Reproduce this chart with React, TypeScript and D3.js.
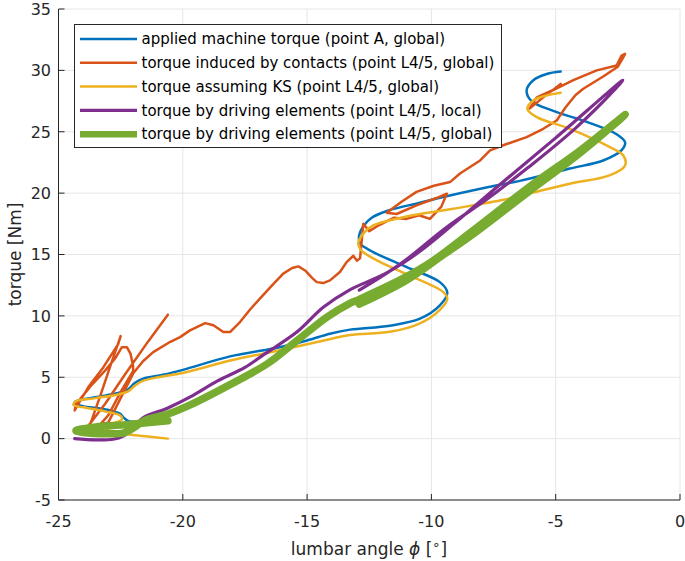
import React from 'react';
import * as d3 from 'd3';

type P = [number, number];

const xTicks = [-25, -20, -15, -10, -5, 0];
const yTicks = [-5, 0, 5, 10, 15, 20, 25, 30, 35];

const legendLabels = [
  'applied machine torque (point A, global)',
  'torque induced by contacts (point L4/5, global)',
  'torque assuming KS (point L4/5, global)',
  'torque by driving elements (point L4/5, local)',
  'torque by driving elements (point L4/5, global)',
];
const seriesColors = ['#0072BD', '#D95319', '#EDB120', '#7E2F8E', '#77AC30'];
const seriesWidths = [2.5, 2.5, 2.5, 3.2, 7.5];

const machineTorque: P[] = [
  [-20.7, 1.4], [-21.6, 1.35], [-22.2, 1.45], [-22.4, 1.75], [-22.5, 2.0], [-23.06, 2.36], [-24.14, 2.71],
  [-24.35, 2.98], [-24.0, 3.2], [-23.06, 3.53], [-22.26, 3.93], [-21.92, 4.55], [-21.59, 4.89], [-20.8, 5.2],
  [-20.0, 5.6], [-18.1, 6.7], [-16.1, 7.45], [-15.0, 8.0], [-14.08, 8.55], [-13.27, 8.88], [-11.67, 9.2],
  [-10.46, 9.77], [-9.66, 10.85], [-9.36, 11.9], [-9.66, 12.75], [-10.99, 13.97], [-12.34, 15.2],
  [-12.87, 15.9], [-12.9, 16.6], [-12.7, 17.4], [-12.4, 18.0], [-11.7, 18.6], [-10.5, 19.2], [-9.7, 19.6],
  [-7.7, 20.5], [-6.44, 21.0], [-4.43, 22.0], [-3.09, 22.66], [-2.35, 23.5], [-2.21, 24.15], [-2.55, 24.8],
  [-3.75, 25.8], [-5.1, 26.7], [-5.97, 27.5], [-6.17, 28.36], [-5.9, 29.2], [-5.36, 29.7], [-4.8, 29.9],
];

const contactTorque: P[] = [
  [-20.6, 10.1], [-21.4, 7.9], [-22.3, 5.3], [-23.1, 2.9], [-23.85, 0.9], [-23.7, 1.3], [-23.3, 3.6],
  [-22.9, 6.0], [-22.5, 8.35], [-22.6, 7.7], [-23.2, 5.8], [-23.8, 4.2], [-24.35, 2.3], [-24.3, 2.8],
  [-23.7, 4.3], [-23.1, 5.6], [-22.7, 6.6], [-22.45, 7.45], [-22.25, 7.45], [-22.1, 6.9], [-22.0, 5.9],
  [-22.0, 5.5], [-22.5, 3.8], [-23.0, 1.9], [-23.3, 1.2], [-23.0, 1.3], [-22.5, 3.3], [-22.0, 5.3],
  [-21.6, 6.3], [-21.19, 7.05], [-20.52, 7.87], [-20.11, 8.27], [-19.71, 8.82], [-19.1, 9.41],
  [-18.77, 9.23], [-18.37, 8.68], [-18.1, 8.68], [-17.7, 9.5], [-17.3, 10.5], [-16.9, 11.4], [-16.4, 12.5],
  [-15.96, 13.44], [-15.6, 13.9], [-15.35, 14.03], [-15.08, 13.7], [-14.8, 13.1], [-14.61, 12.75],
  [-14.35, 12.67], [-14.08, 12.89], [-13.68, 13.57], [-13.41, 14.38], [-13.14, 14.9], [-13.0, 14.5],
  [-12.87, 14.7], [-12.8, 16.2], [-12.74, 17.5], [-12.5, 16.9], [-12.1, 17.4], [-11.5, 18.0], [-11.0, 17.9],
  [-10.5, 18.2], [-10.06, 17.9], [-9.6, 18.9], [-9.38, 19.95], [-9.8, 19.6], [-10.6, 19.0], [-11.4, 18.3],
  [-11.8, 18.4], [-11.2, 19.3], [-10.6, 20.1], [-9.9, 20.6], [-9.25, 20.9], [-8.85, 21.6], [-8.04, 22.66],
  [-7.64, 23.48], [-7.11, 23.9], [-6.17, 24.56], [-5.5, 25.24], [-4.96, 25.92], [-4.6, 27.0], [-4.2, 28.0],
  [-3.89, 28.5], [-3.09, 29.5], [-2.5, 30.3], [-2.3, 31.0], [-2.21, 31.35], [-2.35, 31.2], [-2.55, 30.4],
  [-3.35, 30.0], [-4.29, 29.2], [-5.1, 28.4], [-5.76, 27.8], [-6.05, 26.9], [-5.5, 27.8], [-4.8, 28.9],
];

const ksTorque: P[] = [
  [-20.6, 0.0], [-21.5, 0.2], [-22.4, 0.4], [-23.0, 0.7], [-23.2, 0.95], [-22.8, 1.25], [-22.45, 1.55],
  [-22.5, 1.85], [-23.1, 2.2], [-24.0, 2.55], [-24.4, 2.75], [-24.3, 3.05], [-23.5, 3.3], [-22.6, 3.6],
  [-22.2, 3.85], [-21.9, 4.35], [-21.6, 4.7], [-21.0, 5.0], [-20.0, 5.35], [-18.0, 6.4], [-16.1, 7.2],
  [-14.1, 8.1], [-13.27, 8.45], [-11.67, 8.7], [-10.48, 9.37], [-9.68, 10.45], [-9.36, 11.4],
  [-9.52, 11.94], [-11.0, 13.4], [-12.07, 14.4], [-12.8, 15.3], [-12.94, 15.9], [-12.74, 16.7],
  [-12.34, 17.37], [-11.13, 18.04], [-9.12, 18.73], [-7.1, 19.46], [-6.44, 19.8], [-4.43, 20.77],
  [-2.84, 21.44], [-2.21, 22.26], [-2.28, 23.07], [-2.82, 23.75], [-4.43, 25.24], [-5.76, 26.19],
  [-6.14, 26.87], [-5.9, 27.55], [-5.36, 27.96], [-4.8, 28.18],
];

const localDriving: P[] = [
  [-24.35, 0.0], [-23.5, -0.1], [-22.8, -0.05], [-22.4, 0.2], [-22.0, 0.9], [-21.6, 1.7], [-20.6, 2.5],
  [-19.7, 3.4], [-18.6, 4.7], [-17.5, 5.8], [-16.7, 6.9], [-15.4, 8.7], [-14.35, 10.7], [-13.3, 12.1],
  [-11.8, 13.5], [-10.5, 15.2], [-9.1, 17.5], [-7.3, 20.6], [-5.0, 24.5], [-2.3, 29.2], [-2.6, 28.5],
  [-4.2, 25.3], [-6.1, 22.1], [-7.7, 19.6], [-9.4, 17.2], [-11.2, 14.3], [-12.9, 12.1],
];

const globalDriving: P[] = [
  [-20.6, 1.45], [-22.5, 1.1], [-23.5, 0.95], [-24.3, 0.65], [-24.0, 0.5], [-23.0, 0.4], [-22.4, 0.45],
  [-22.0, 0.85], [-21.5, 1.5], [-20.6, 2.0], [-19.7, 2.75], [-18.1, 4.4], [-16.6, 6.1], [-15.4, 8.0],
  [-14.2, 9.9], [-13.3, 11.0], [-12.9, 11.35], [-11.0, 13.2], [-10.0, 14.4], [-8.3, 17.0], [-6.0, 20.6],
  [-4.0, 23.5], [-2.2, 26.4], [-4.0, 23.3], [-6.1, 20.1], [-8.3, 16.7], [-9.5, 15.0], [-11.0, 12.9],
  [-12.9, 10.95],
];

const allSeries = [machineTorque, contactTorque, ksTorque, localDriving, globalDriving];

export default function App() {
  const W = 685;
  const H = 561;
  const x = d3.scaleLinear().domain([-25, 0]).range([58.5, 680]);
  const y = d3.scaleLinear().domain([-5, 35]).range([500, 9]);
  const axisColor = '#262626';
  const font = '"DejaVu Sans", Arial, sans-serif';

  const smooth = d3.line<P>().x(d => x(d[0])).y(d => y(d[1])).curve(d3.curveCatmullRom.alpha(0.5));
  const linear = d3.line<P>().x(d => x(d[0])).y(d => y(d[1])).curve(d3.curveLinear);

  const [x0, x1] = x.range();
  const [y0, y1] = y.range();

  const legX = 74.5, legY = 24.5, legW = 427, legH = 123;
  const rowY = (i: number) => 39 + i * 23.8;

  return (
    <svg width={W} height={H} style={{ position: 'absolute', left: 0, top: 0, background: '#fff' }}
      fontFamily={font}>
      <rect x={0} y={0} width={W} height={H} fill="#fff" />
      {xTicks.map(t => (
        <line key={'gx' + t} x1={x(t)} x2={x(t)} y1={y1} y2={y0} stroke="#e6e6e6" strokeWidth={1} />
      ))}
      {yTicks.map(t => (
        <line key={'gy' + t} x1={x0} x2={x1} y1={y(t)} y2={y(t)} stroke="#e6e6e6" strokeWidth={1} />
      ))}
      {allSeries.map((s, i) => (
        <path key={'s' + i} d={(i === 1 ? linear(s) : smooth(s)) || ''} fill="none"
          stroke={seriesColors[i]} strokeWidth={seriesWidths[i]} strokeLinejoin="round" strokeLinecap="round" />
      ))}
      <line x1={x0} x2={x0} y1={y1} y2={y0} stroke={axisColor} strokeWidth={1} />
      <line x1={x0} x2={x1} y1={y0} y2={y0} stroke={axisColor} strokeWidth={1} />
      {xTicks.map(t => (
        <g key={'xt' + t}>
          <line x1={x(t)} x2={x(t)} y1={y0} y2={y0 - 6} stroke={axisColor} strokeWidth={1} />
          <text x={x(t)} y={527} textAnchor="middle" fontSize={16} fill={axisColor}>{t}</text>
        </g>
      ))}
      {yTicks.map(t => (
        <g key={'yt' + t}>
          <line x1={x0} x2={x0 + 6} y1={y(t)} y2={y(t)} stroke={axisColor} strokeWidth={1} />
          <text x={51} y={y(t)} dy="0.36em" textAnchor="end" fontSize={16} fill={axisColor}>{t}</text>
        </g>
      ))}
      <text x={369} y={555} textAnchor="middle" fontSize={17} fill={axisColor}>
        lumbar angle <tspan fontStyle="italic">ϕ</tspan> [<tspan dy={-6} fontSize={13}>∘</tspan><tspan dy={6}>]</tspan>
      </text>
      <text transform={`translate(21,${(y0 + y1) / 2}) rotate(-90)`} textAnchor="middle" fontSize={17} fill={axisColor}>
        torque [Nm]
      </text>
      <rect x={legX} y={legY} width={legW} height={legH} fill="#fff" stroke={axisColor} strokeWidth={1} />
      {legendLabels.map((lab, i) => (
        <g key={'lg' + i}>
          <line x1={80} x2={137} y1={rowY(i)} y2={rowY(i)} stroke={seriesColors[i]}
            strokeWidth={i === 4 ? 6.5 : seriesWidths[i]} />
          <text x={141.5} y={rowY(i)} dy="0.35em" fontSize={15} fill="#000">{lab}</text>
        </g>
      ))}
    </svg>
  );
}
